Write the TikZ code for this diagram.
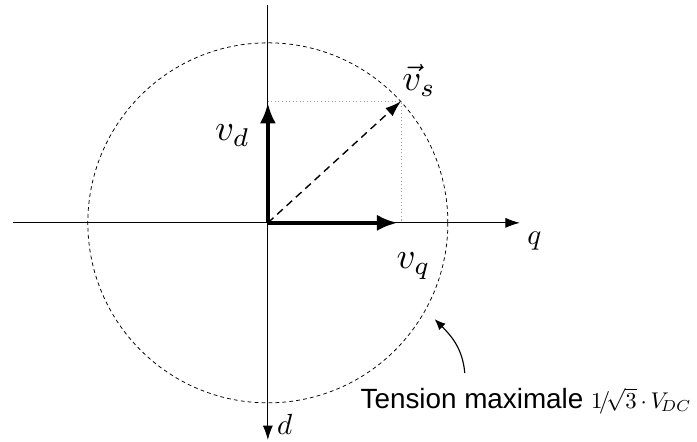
\documentclass[tikz,border=0pt]{standalone}
\usepackage{fontspec}
\setsansfont{Liberation Sans}
\usetikzlibrary{arrows.meta}

\begin{document}
\begin{tikzpicture}
    % Define colours
    \definecolor{axisColour}{HTML}{000000}
    \definecolor{dotColour}{HTML}{A0A0A0}

    % Define circle radius
    \def\radius{5}

    % Fix the page size
    \useasboundingbox (-7.44,-6.06) rectangle (11.92,6.19);

    % Define coordinates
    \coordinate (O) at (0,0);
    \coordinate (qStart) at (-7.08,0);
    \coordinate (qEnd) at (7.0,0);
    \coordinate (dStart) at (0,6.06);
    \coordinate (dEnd) at (0,-6.03);
    \coordinate (Vd) at (0,3.33);
    \coordinate (Vq) at (3.6,0);
    \coordinate (Vs) at (3.7,3.38);
    \coordinate (VsD) at (0,3.38);
    \coordinate (VsQ) at (3.7,0);
    \coordinate (arrowStart) at (5.47,-4.17);
    \coordinate (arrowTip) at (-30:5.35);

    % Draw the voltage limit circle
    \draw[axisColour, line width=0.6pt, dash pattern=on 3pt off 2.5pt] (O) circle (\radius);

    % Draw axes
    \draw[axisColour, line width=0.8pt, -{Latex[length=0.4cm,width=0.28cm]}] (qStart) -- (qEnd);
    \draw[axisColour, line width=0.8pt, -{Latex[length=0.4cm,width=0.28cm]}] (dStart) -- (dEnd);

    % Draw projections of v_s
    \draw[dotColour, line width=0.8pt, dotted] (VsD) -- (Vs) -- (VsQ);

    % Draw the components
    \draw[axisColour, line width=3pt, -{Latex[length=0.57cm,width=0.45cm]}] (O) -- (Vd);
    \draw[axisColour, line width=3pt, -{Latex[length=0.57cm,width=0.45cm]}] (O) -- (Vq);

    % Draw the voltage vector
    \draw[axisColour, line width=1.1pt, dash pattern=on 6pt off 4pt, -{Latex[length=0.45cm,width=0.3cm]}] (O) -- (Vs);

    % Label axes and vectors
    \node[scale=2.9] (vdLabel) at (-0.98,2.42) {$v_{d}$};
    \node[scale=2.9] (vqLabel) at (4.05,-1.2) {$v_{q}$};
    \node[scale=2.9] (vsLabel) at (4.2,3.95) {$\vec{v}_{s}$};
    \node[scale=2.3] (qLabel) at (7.4,-0.5) {$q$};
    \node[scale=2.3] (dLabel) at (0.47,-5.6) {$d$};

    % Label the circle
    \node[anchor=west, inner sep=0pt, font=\sffamily\fontsize{22}{24}\selectfont] (tension) at (2.57,-4.95) {Tension maximale {\normalsize\scalebox{1.8}{$1\!/\!\sqrt{3}\,{\cdot}\,V_{\!DC}$}}};
    \draw[axisColour, line width=0.9pt, -{Latex[length=0.3cm,width=0.25cm]}] (arrowStart) to[out=95,in=-45] (arrowTip);

\end{tikzpicture}
\end{document}
